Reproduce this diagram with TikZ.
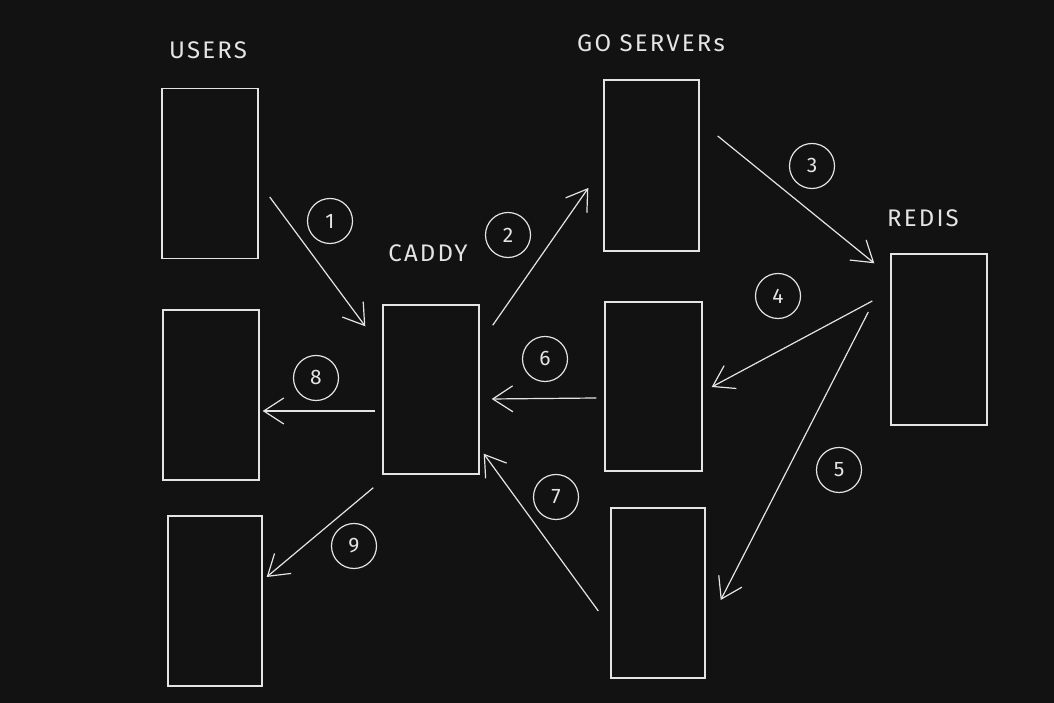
\documentclass[tikz,border=0pt]{standalone}
\usepackage{fontspec}
\setmainfont{Fira Sans}
\newfontfamily\sketchfont[LetterSpace=9]{Fira Sans}
\usetikzlibrary{positioning, arrows.meta}
\definecolor{bg}{HTML}{121212}
\definecolor{ink}{HTML}{E4E4E4}
\tikzset{
x=1pt, y=1pt, % one unit is one pixel of the sketch
>={Straight Barb[length=20pt, width=26pt]}, % open hand-drawn arrow heads
box/.style={draw=ink, line width=1.4pt, minimum width=96pt, minimum height=170pt}, % every server box
flow/.style={->, draw=ink, line width=1.2pt}, % the numbered requests
step num/.style={draw=ink, circle, line width=1.2pt, minimum size=45pt, inner sep=0pt, text=ink, font=\fontsize{21}{21}\selectfont}, % circled step numbers
title/.style={text=ink, font=\sketchfont\fontsize{24}{24}\selectfont}, % column headings
}
\begin{document}
\begin{tikzpicture}
        \fill[bg] (0,0) rectangle (1054,703);
        \useasboundingbox (0,0) rectangle (1054,703);

        % users
        \node[title] (usersT) at (208,653) {USERS};
        \node[box] (u1) at (210,529.5) {};
        \node[box] (u2) at (211,308) {};
        \node[box, minimum width=94pt] (u3) at (215,102) {};

        % caddy
        \node[title] (caddyT) at (428,450) {CADDY};
        \node[box, minimum height=169pt] (cd) at (431,313.5) {};

        % go servers
        \node[title] (goT) at (651,660) {GO SERVERs};
        \node[box, minimum width=95pt, minimum height=171pt] (g1) at (651.5,537.5) {};
        \node[box, minimum width=97pt, minimum height=169pt] (g2) at (653.5,316.5) {};
        \node[box, minimum width=94pt] (g3) at (658,110) {};

        % redis
        \node[title] (redisT) at (923,485) {REDIS};
        \node[box, minimum height=171pt] (rd) at (939,363.5) {};

        % requests
        \draw[flow] ([shift={(11,-23.5)}]u1.east) -- ([shift={(-17,-22)}]cd.north west);
        \draw[flow] ([shift={(13,-21)}]cd.north east) -- ([shift={(-15,-22.5)}]g1.west);
        \draw[flow] ([shift={(18,29.5)}]g1.east) -- ([shift={(-16,-10)}]rd.north west);
        \draw[flow] ([shift={(-18,38.5)}]rd.west) -- ([shift={(9,-0.5)}]g2.east);
        \draw[flow] ([shift={(-22,27.5)}]rd.west) -- ([shift={(15,-7)}]g3.east);
        \draw[flow] ([shift={(-8,-11.5)}]g2.west) -- ([shift={(12,-9.5)}]cd.east);
        \draw[flow] ([shift={(-12,-18)}]g3.west) -- ([shift={(4,21)}]cd.south east);
        \draw[flow] ([shift={(-7,-21.5)}]cd.west) -- ([shift={(3,-16)}]u2.east);
        \draw[flow] ([shift={(-9,-13)}]cd.south west) -- ([shift={(4,24)}]u3.east);

        % step numbers
        \node[step num] (n1) at (330,482) {1};
        \node[step num] (n2) at (508,468) {2};
        \node[step num] (n3) at (812,537) {3};
        \node[step num] (n4) at (778,407) {4};
        \node[step num] (n5) at (839,233) {5};
        \node[step num] (n6) at (545,344) {6};
        \node[step num] (n7) at (556,206) {7};
        \node[step num] (n8) at (316,325) {8};
        \node[step num] (n9) at (354,157) {9};
    \end{tikzpicture}
\end{document}
